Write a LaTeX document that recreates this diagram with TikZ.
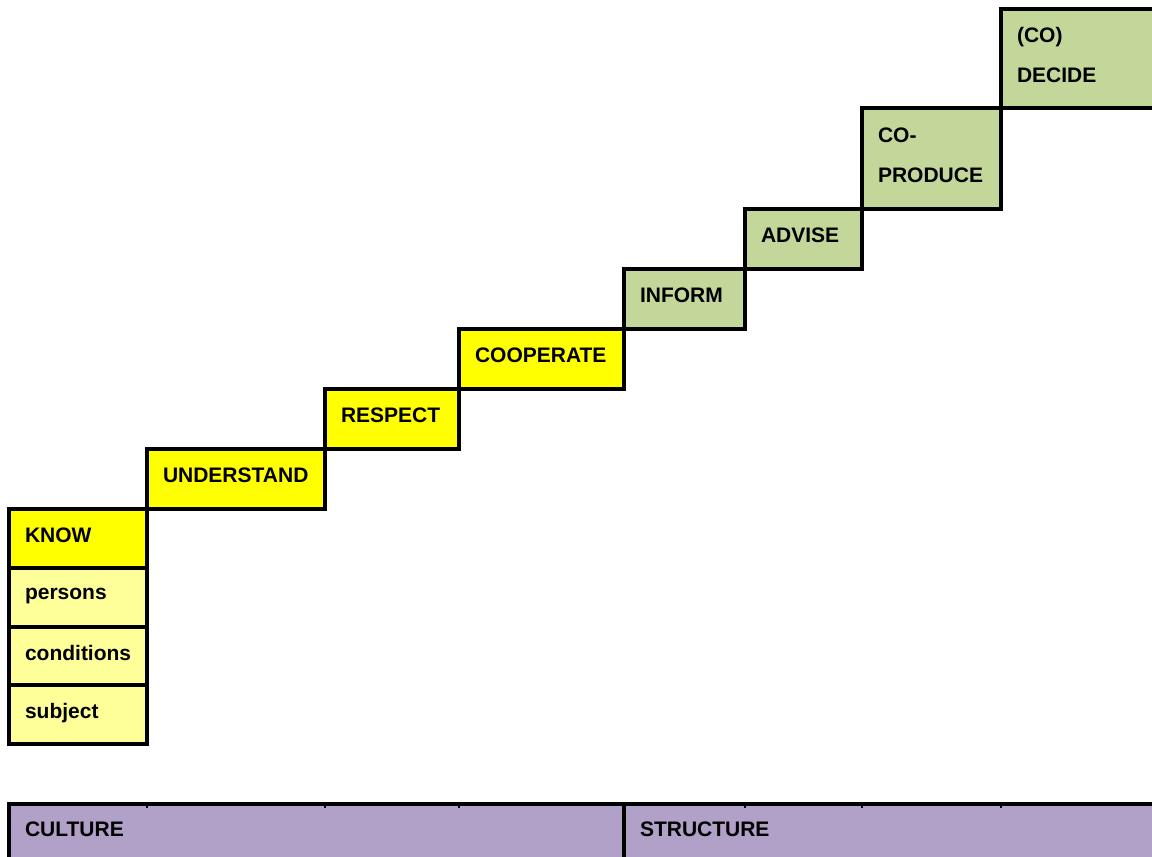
\documentclass[tikz,border=0pt]{standalone}
\usepackage{fontspec}
\setmainfont{Liberation Sans}
\definecolor{knowyellow}{HTML}{FFFF00}
\definecolor{paleyellow}{HTML}{FFFF99}
\definecolor{stepgreen}{HTML}{C4D79B}
\definecolor{barpurple}{HTML}{B1A0C7}
\tikzset{
	stepbox/.style={draw,line width=3.5pt,anchor=north west,outer sep=0pt,inner xsep=16pt,inner ysep=0pt,
		align=left,text depth=7pt,font=\fontsize{21}{40}\selectfont\bfseries},
	twoline/.style={text depth=47pt},
}

\begin{document}
\begin{tikzpicture}[x=1pt,y=-1pt]
	\useasboundingbox (0,0) rectangle (1152,857);
	\path (9,509) node[stepbox,fill=knowyellow,text width=106pt,minimum height=59pt] (know) {KNOW}
	(9,568) node[stepbox,fill=paleyellow,text width=106pt,minimum height=59pt] (persons) {persons}
	(9,627) node[stepbox,fill=paleyellow,text width=106pt,minimum height=58pt] (conditions) {conditions}
	(9,685) node[stepbox,fill=paleyellow,text width=106pt,minimum height=59pt] (subject) {subject};
	\path (147,449) node[stepbox,fill=knowyellow,text width=146pt,minimum height=60pt] (understand) {UNDERSTAND}
	(325,389) node[stepbox,fill=knowyellow,text width=102pt,minimum height=60pt] (respect) {RESPECT}
	(459,329) node[stepbox,fill=knowyellow,text width=133pt,minimum height=60pt] (cooperate) {COOPERATE};
	\path (624,269) node[stepbox,fill=stepgreen,text width=89pt,minimum height=60pt] (inform) {INFORM}
	(745,209) node[stepbox,fill=stepgreen,text width=85pt,minimum height=60pt] (advise) {ADVISE}
	(862,108) node[stepbox,twoline,fill=stepgreen,text width=107pt,minimum height=101pt] (coproduce) {CO-\\PRODUCE}
	(1001,9) node[stepbox,twoline,fill=stepgreen,text width=132pt,minimum height=99pt] (decide) {(CO)\\DECIDE};
%	bottom bar, runs off the page
	\path (9,804) node[stepbox,fill=barpurple,text width=583pt,minimum height=58pt] (culture) {CULTURE}
	(624,804) node[stepbox,fill=barpurple,text width=509pt,minimum height=58pt] (structure) {STRUCTURE};
	\foreach \s in {understand,respect,cooperate,advise,coproduce,decide}
		\draw[line width=2pt] (\s.west |- culture.north) -- +(0,4);
\end{tikzpicture}
\end{document}
